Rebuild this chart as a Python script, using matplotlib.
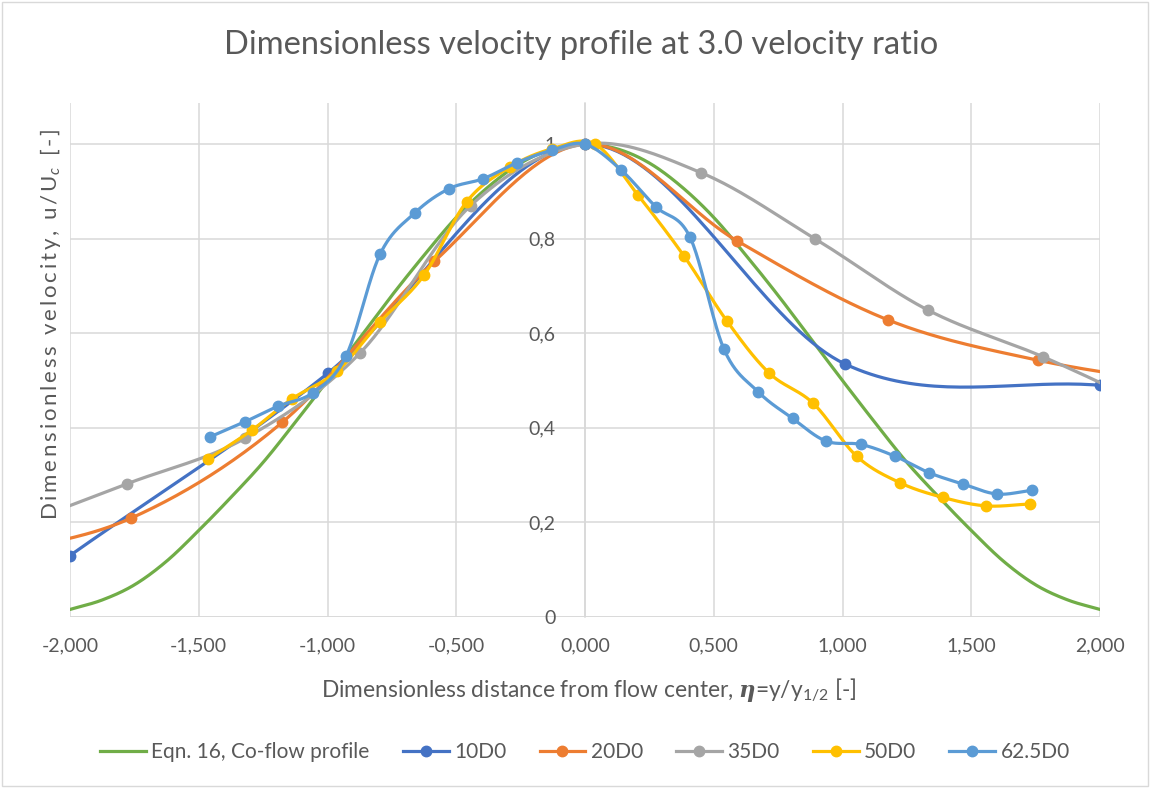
import numpy as np
import matplotlib
matplotlib.use("Agg")
import matplotlib.pyplot as plt
from matplotlib.lines import Line2D
from matplotlib.patches import Rectangle

# ---- data -------------------------------------------------------------
eta_eqn = [-2.0, -1.875, -1.75, -1.625, -1.5, -1.375, -1.25, -1.125, -1.0,
           -0.875, -0.75, -0.625, -0.5, -0.375, -0.25, -0.125, 0.0,
           0.125, 0.25, 0.375, 0.5, 0.625, 0.75, 0.875, 1.0,
           1.125, 1.25, 1.375, 1.5, 1.625, 1.75, 1.875, 2.0]
u_eqn = [0.016, 0.036, 0.068, 0.118, 0.183, 0.253, 0.327, 0.412, 0.5,
         0.59, 0.68, 0.765, 0.845, 0.91, 0.96, 0.99, 1.0,
         0.99, 0.96, 0.91, 0.845, 0.765, 0.68, 0.59, 0.5,
         0.412, 0.327, 0.253, 0.183, 0.118, 0.068, 0.036, 0.016]

eta_10 = [-2.0, -1.0, 0.0, 1.01, 2.0]
u_10 = [0.13, 0.515, 1.0, 0.535, 0.49]

eta_20 = [-2.35, -1.763, -1.175, -0.585, 0.0, 0.589, 1.178, 1.759, 2.35]
u_20 = [0.125, 0.209, 0.412, 0.752, 1.0, 0.796, 0.628, 0.543, 0.49]

eta_35 = [-2.22, -1.777, -1.32, -0.874, -0.444, 0.0, 0.449, 0.893, 1.332, 1.78, 2.22]
u_35 = [0.19, 0.282, 0.378, 0.558, 0.87, 1.0, 0.940, 0.800, 0.649, 0.550, 0.44]

eta_50 = [-1.464, -1.294, -1.139, -0.963, -0.796, -0.625, -0.46, -0.29, -0.128,
          0.039, 0.206, 0.385, 0.551, 0.715, 0.886, 1.055, 1.223, 1.389, 1.557, 1.728]
u_50 = [0.334, 0.395, 0.461, 0.52, 0.624, 0.723, 0.878, 0.952, 0.99,
        1.0, 0.892, 0.763, 0.626, 0.516, 0.452, 0.340, 0.284, 0.253, 0.235, 0.239]

eta_625 = [-1.456, -1.32, -1.191, -1.058, -0.928, -0.796, -0.66, -0.527, -0.395,
           -0.263, -0.13, 0.0, 0.139, 0.274, 0.408, 0.54, 0.673, 0.806, 0.936,
           1.071, 1.204, 1.337, 1.469, 1.601, 1.735]
u_625 = [0.381, 0.413, 0.446, 0.474, 0.552, 0.767, 0.855, 0.906, 0.927,
         0.961, 0.987, 1.0, 0.946, 0.868, 0.803, 0.566, 0.476, 0.420, 0.372,
         0.365, 0.340, 0.305, 0.281, 0.260, 0.268]

series_names = ["10D0", "20D0", "35D0", "50D0", "62.5D0"]
series_eta = [eta_10, eta_20, eta_35, eta_50, eta_625]
series_u = [u_10, u_20, u_35, u_50, u_625]
series_colors = ["#4472C4", "#ED7D31", "#A5A5A5", "#FFC000", "#5B9BD5"]
eqn_name = "Eqn. 16, Co-flow profile"
eqn_color = "#70AD47"

x_ticks = [-2.0, -1.5, -1.0, -0.5, 0.0, 0.5, 1.0, 1.5, 2.0]
x_ticklabels = ["-2,000", "-1,500", "-1,000", "-0,500", "0,000",
                "0,500", "1,000", "1,500", "2,000"]
y_ticks = [0.0, 0.2, 0.4, 0.6, 0.8, 1.0]
y_ticklabels = ["0", "0,2", "0,4", "0,6", "0,8", "1"]


def smooth_curve(xs, ys, n=40):
    """Parametric cubic Bezier smoothing through every point (spreadsheet style)."""
    p = np.column_stack([xs, ys]).astype(float)
    ext = np.vstack([2 * p[0] - p[1], p, 2 * p[-1] - p[-2]])
    t = np.linspace(0.0, 1.0, n, endpoint=False)[:, None]
    parts = []
    for i in range(1, len(ext) - 2):
        p0, p1, p2, p3 = ext[i - 1], ext[i], ext[i + 1], ext[i + 2]
        c1 = p1 + (p2 - p0) / 6.0
        c2 = p2 - (p3 - p1) / 6.0
        seg = ((1 - t) ** 3) * p1 + 3 * ((1 - t) ** 2) * t * c1 \
            + 3 * (1 - t) * t ** 2 * c2 + t ** 3 * p2
        parts.append(seg)
    parts.append(p[-1:])
    c = np.vstack(parts)
    return c[:, 0], c[:, 1]


GAP = "\u200a\u200a"


def spaced(s):
    """Loosen the tracking of a plain string with hair spaces."""
    return GAP.join(s)


plt.rcParams["font.family"] = ["Lato", "DejaVu Sans"]
plt.rcParams["mathtext.fontset"] = "custom"
plt.rcParams["mathtext.rm"] = "Lato"
plt.rcParams["mathtext.it"] = "Lato:italic"
plt.rcParams["mathtext.bf"] = "DejaVu Serif:bold:italic"

text_color = "#595959"
grid_color = "#D9D9D9"

fig = plt.figure(figsize=(11.5, 7.88), dpi=100)
fig.patch.set_facecolor("white")
fig.add_artist(Rectangle((0.002, 0.003), 0.996, 0.994, transform=fig.transFigure,
                         fill=False, edgecolor=grid_color, linewidth=1.0))

ax = fig.add_axes([70 / 1150, 1 - 617 / 788, 1030 / 1150, 514 / 788])
ax.set_xlim(-2.0, 2.0)
ax.set_ylim(0.0, 1.087)

# gridlines and axis styling
ax.set_xticks(x_ticks)
ax.set_xticklabels(x_ticklabels)
ax.set_yticks(y_ticks)
ax.set_yticklabels(y_ticklabels)
ax.grid(True, color=grid_color, linewidth=1.1, zorder=0)
ax.set_axisbelow(True)
for s in ["top", "right", "bottom"]:
    ax.spines[s].set_visible(False)
ax.spines["left"].set_position(("data", 0.0))
ax.spines["left"].set_color(grid_color)
ax.spines["left"].set_linewidth(1.1)
ax.tick_params(axis="both", length=0, colors=text_color, labelsize=14)
ax.tick_params(axis="y", pad=21)
ax.tick_params(axis="x", pad=15)
ax.axhline(0.0, color=grid_color, linewidth=1.1, zorder=0.5)

lw = 2.3
ms = 7.5

# analytical co-flow profile
xe, ye = smooth_curve(eta_eqn, u_eqn)
ax.plot(xe, ye, color=eqn_color, linewidth=lw, zorder=2, solid_capstyle="round")

for k, (eta, u, col) in enumerate(zip(series_eta, series_u, series_colors)):
    xs, ys = smooth_curve(eta, u)
    ax.plot(xs, ys, color=col, linewidth=lw, zorder=3 + k, solid_capstyle="round")
    ax.plot(eta, u, linestyle="none", marker="o", markersize=ms,
            color=col, zorder=3 + k)

fig.text(581 / 1150, 1 - 45 / 788,
         "Dimensionless velocity profile at 3.0 velocity ratio",
         ha="center", va="center", fontsize=23.5, color=text_color)

fig.text(589 / 1150, 1 - 690 / 788,
         r"Dimensionless distance from flow center, $\mathbf{\eta}$=y/y$_{1/2}$ [-]",
         ha="center", va="center", fontsize=16.4, color=text_color)

fig.text(51 / 1150, 1 - 324 / 788,
         spaced("Dimensionless velocity, u/") + GAP + r"U$_c$" + GAP
         + spaced(" [-]"),
         ha="center", va="center", rotation=90, fontsize=16, color=text_color)

handles = [Line2D([], [], color=eqn_color, linewidth=lw)]
for col in series_colors:
    handles.append(Line2D([], [], color=col, linewidth=lw, marker="o", markersize=ms))
fig.legend(handles, [eqn_name] + series_names, loc="center",
           bbox_to_anchor=(585 / 1150, 1 - 752 / 788), ncol=6, frameon=False,
           fontsize=15, labelcolor=text_color, handlelength=2.2,
           handletextpad=0.25, columnspacing=1.6)

fig.savefig("out.png", dpi=100, facecolor="white")
